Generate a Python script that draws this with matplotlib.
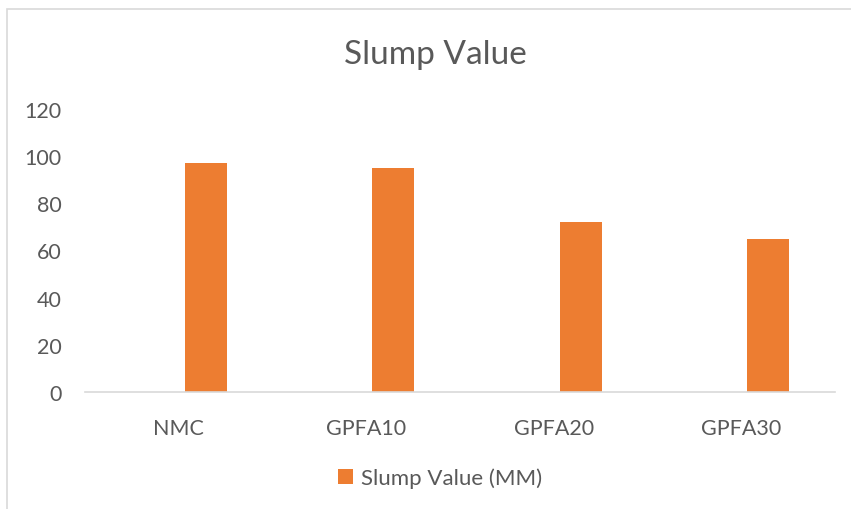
import matplotlib.pyplot as plt
import numpy as np
from matplotlib.patches import Rectangle

categories = ["NMC", "GPFA10", "GPFA20", "GPFA30"]
slump_values = [97, 95, 72, 65]
series_name = "Slump Value (MM)"
y_ticks = [0, 20, 40, 60, 80, 100, 120]

plt.rcParams['font.family'] = ['Lato', 'DejaVu Sans']
text_col = '#595959'
bar_col = '#ED7D31'

fig = plt.figure(figsize=(8.51, 5.10), dpi=100)
W, H = 851, 510

# chart area border (cut off at right/bottom like the screenshot)
fig.patches.append(Rectangle((7 / W, -0.1), 1.2, 1 - 10 / H + 0.1, transform=fig.transFigure,
                             fill=False, edgecolor='#D9D9D9', linewidth=1.2))

ax = fig.add_axes([85 / W, 1 - 393 / H, (835 - 85) / W, (393 - 110) / H])
x = np.arange(len(categories))
ax.bar(x + 0.145, slump_values, width=0.224, color=bar_col, label=series_name)

ax.set_xlim(-0.5, len(categories) - 0.5)
ax.set_ylim(0, 120)
ax.set_yticks(y_ticks)
ax.set_xticks(x)
ax.set_xticklabels(categories)
for s in ['left', 'right', 'top']:
    ax.spines[s].set_visible(False)
ax.spines['bottom'].set_color('#D9D9D9')
ax.spines['bottom'].set_linewidth(1.2)
ax.tick_params(axis='both', length=0, labelsize=15.5, colors=text_col)
ax.tick_params(axis='y', pad=17)
ax.tick_params(axis='x', pad=19)

fig.text(435 / W, 1 - 55 / H, "Slump Value", ha='center', va='center', fontsize=24, color=text_col)

ax.legend(loc='center', bbox_to_anchor=(440 / W, 1 - 479 / H), bbox_transform=fig.transFigure,
          frameon=False, fontsize=16, labelcolor=text_col, handlelength=0.65, handleheight=0.65,
          handletextpad=0.35)

fig.savefig('out.png', dpi=100)
